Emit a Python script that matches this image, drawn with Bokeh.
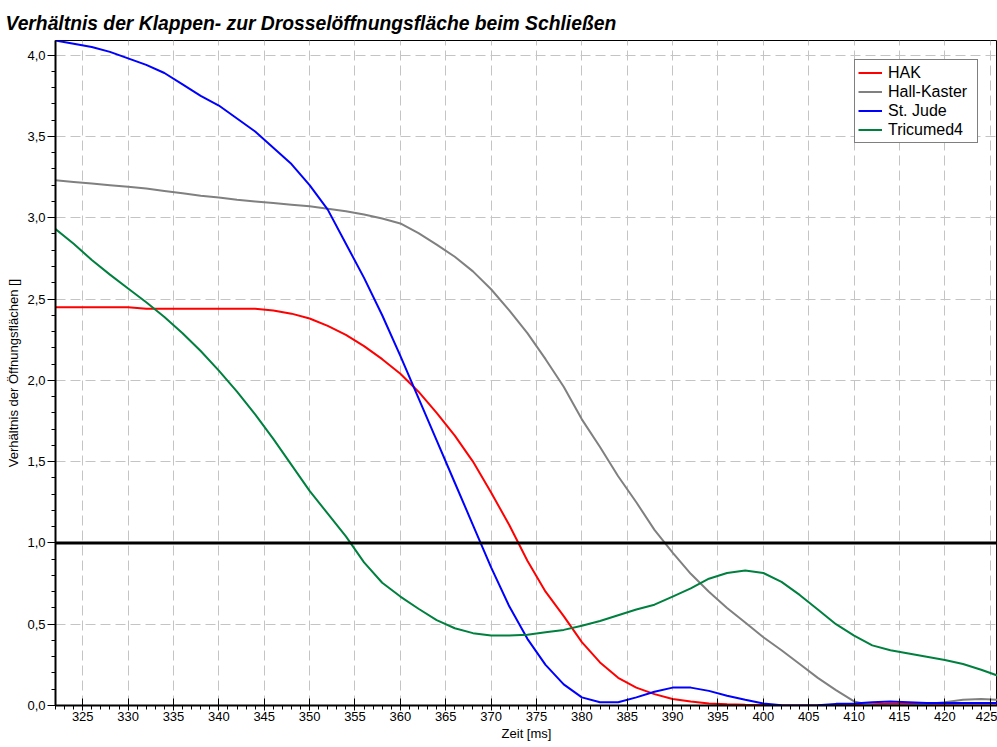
from bokeh.plotting import figure
from bokeh.models import (Legend, LegendItem, Span, CustomJSTickFormatter,
                          SingleIntervalTicker, Range1d, ColumnDataSource)
from bokeh.embed import file_html
from bokeh.resources import INLINE

TITLE = "Verhältnis der Klappen- zur Drosselöffnungsfläche beim Schließen"
X_LABEL = "Zeit [ms]"
Y_LABEL = "Verhältnis der Öffnungsflächen []"
REF_LEVEL = 1.0

time_ms = [322, 324, 326, 328, 330, 332, 334, 336, 338, 340, 342, 344, 346, 348,
           350, 352, 354, 356, 358, 360, 362, 364, 366, 368, 370, 372, 374, 376,
           378, 380, 382, 384, 386, 388, 390, 392, 394, 396, 398, 400, 402, 404,
           406, 408, 410, 412, 414, 416, 418, 420, 422, 424, 426]

hak = [2.45, 2.45, 2.45, 2.45, 2.45, 2.44, 2.44, 2.44, 2.44, 2.44, 2.44, 2.44, 2.43, 2.41,
       2.38, 2.335, 2.28, 2.21, 2.13, 2.04, 1.93, 1.80, 1.66, 1.50, 1.31, 1.11, 0.89, 0.70,
       0.55, 0.39, 0.265, 0.17, 0.11, 0.07, 0.04, 0.025, 0.013, 0.008, 0.005, 0.003, 0.0, 0.0,
       0.0, 0.005, 0.008, 0.008, 0.01, 0.01, 0.01, 0.01, 0.012, 0.012, 0.012]

hall_kaster = [3.23, 3.22, 3.21, 3.20, 3.19, 3.18, 3.165, 3.15, 3.135, 3.125, 3.11, 3.10, 3.09, 3.08,
               3.07, 3.055, 3.04, 3.02, 2.995, 2.965, 2.905, 2.835, 2.76, 2.67, 2.56, 2.43, 2.29, 2.13,
               1.96, 1.76, 1.59, 1.41, 1.25, 1.08, 0.94, 0.81, 0.70, 0.60, 0.51, 0.42, 0.34, 0.255,
               0.17, 0.095, 0.025, 0.0, 0.0, 0.0, 0.01, 0.02, 0.035, 0.04, 0.035]

st_jude = [4.09, 4.07, 4.05, 4.02, 3.98, 3.94, 3.89, 3.82, 3.75, 3.69, 3.61, 3.53, 3.43, 3.33,
           3.20, 3.05, 2.84, 2.63, 2.40, 2.15, 1.89, 1.63, 1.37, 1.11, 0.85, 0.61, 0.41, 0.25,
           0.13, 0.05, 0.02, 0.02, 0.05, 0.085, 0.11, 0.11, 0.09, 0.06, 0.035, 0.012, 0.002, 0.0,
           0.002, 0.01, 0.012, 0.02, 0.025, 0.02, 0.015, 0.015, 0.015, 0.015, 0.015]

tricumed4 = [2.93, 2.84, 2.74, 2.65, 2.565, 2.48, 2.39, 2.29, 2.18, 2.06, 1.93, 1.79, 1.64, 1.48,
             1.32, 1.18, 1.04, 0.88, 0.755, 0.67, 0.595, 0.525, 0.475, 0.445, 0.43, 0.43, 0.435, 0.45,
             0.465, 0.49, 0.52, 0.555, 0.59, 0.62, 0.67, 0.72, 0.78, 0.815, 0.83, 0.815, 0.76, 0.68,
             0.59, 0.50, 0.43, 0.37, 0.34, 0.32, 0.30, 0.28, 0.255, 0.22, 0.18]

series_names = ["HAK", "Hall-Kaster", "St. Jude", "Tricumed4"]
series_values = [hak, hall_kaster, st_jude, tricumed4]
series_colors = ["#ff0000", "#808080", "#0000ff", "#00803f"]

FONT = "Liberation Sans"

p = figure(width=997, height=747, output_backend="svg", toolbar_location=None,
           x_range=Range1d(322, 425.8), y_range=Range1d(0, 4.09),
           min_border_left=55, min_border_right=0, min_border_top=40, min_border_bottom=42)

p.title.text = TITLE
p.title.text_font = FONT
p.title.text_font_size = "19.3px"
p.title.text_font_style = "bold italic"
p.title.text_color = "black"
p.title.align = "left"
p.title.offset = -50
p.title.standoff = 14

p.outline_line_color = "black"
p.outline_line_width = 1
p.background_fill_color = "white"
p.border_fill_color = "white"

# axes
p.xaxis.ticker = SingleIntervalTicker(interval=5, num_minor_ticks=5)
p.yaxis.ticker = SingleIntervalTicker(interval=0.5, num_minor_ticks=5)
p.yaxis.formatter = CustomJSTickFormatter(code="return tick.toFixed(1).replace('.', ',');")
for ax in (p.xaxis[0], p.yaxis[0]):
    ax.axis_line_color = "black"
    ax.axis_line_width = 2
    ax.major_tick_line_color = "black"
    ax.minor_tick_line_color = "black"
    ax.major_label_text_font = FONT
    ax.major_label_text_font_size = "13px"
    ax.major_label_text_color = "black"
    ax.axis_label_text_font = FONT
    ax.axis_label_text_font_size = "13px"
    ax.axis_label_text_font_style = "normal"
    ax.axis_label_text_color = "black"
    ax.minor_tick_in = 0
    ax.minor_tick_out = 4
p.xaxis.major_tick_in = 7
p.xaxis.major_tick_out = 5
p.yaxis.major_tick_in = 0
p.yaxis.major_tick_out = 8
p.xaxis.major_label_standoff = 1
p.yaxis.major_label_standoff = 2
p.xaxis.axis_label = X_LABEL
p.yaxis.axis_label = Y_LABEL
p.xaxis.axis_label_standoff = 2
p.yaxis.axis_label_standoff = 3

for g in (p.xgrid[0], p.ygrid[0]):
    g.grid_line_color = "#c4c4c4"
    g.grid_line_dash = "10 5"
    g.grid_line_width = 1

p.add_layout(Span(location=REF_LEVEL, dimension="width", line_color="black", line_width=3))

items = []
for name, vals, col in zip(series_names, series_values, series_colors):
    src = ColumnDataSource(dict(t=time_ms, v=vals))
    r = p.line("t", "v", source=src, line_color=col, line_width=2)
    items.append(LegendItem(label=name, renderers=[r]))

legend = Legend(items=items, location="top_right")
legend.label_text_font = FONT
legend.label_text_font_size = "16px"
legend.label_text_color = "black"
legend.border_line_color = "black"
legend.border_line_width = 1
legend.background_fill_color = "white"
legend.background_fill_alpha = 1
legend.padding = 3
legend.spacing = 0
legend.margin = 19
legend.glyph_width = 24
legend.glyph_height = 19
legend.label_height = 19
legend.label_width = 86
legend.label_standoff = 6
p.add_layout(legend)

open("out.html", "w").write(file_html(p, INLINE))
